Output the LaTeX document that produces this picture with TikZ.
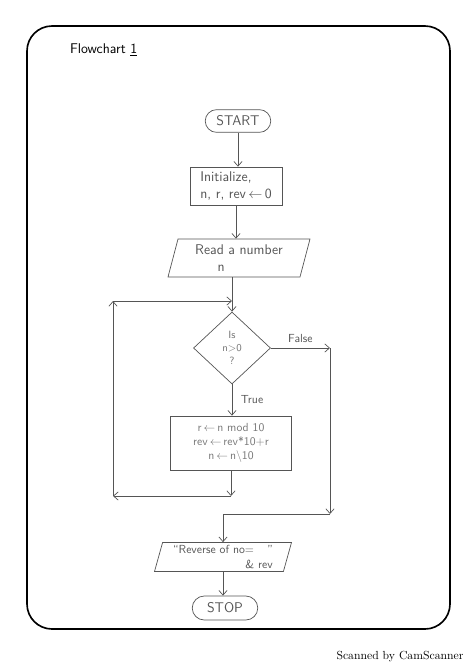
\documentclass[tikz,border=0pt]{standalone}
\usepackage{tikz}
\usetikzlibrary{positioning,calc,shapes.geometric,shapes.misc,arrows.meta}
\definecolor{Ink}{RGB}{85,85,85}
\definecolor{FadedInk}{RGB}{120,120,120}
\tikzstyle{every picture}+=[font=\sffamily]
\tikzset{%
  terminal/.style={%
    draw=Ink, semithick, shape=rounded rectangle, text=Ink,
    minimum width=2.2cm, minimum height=0.68cm, font=\sffamily\large
  },
  process/.style={%
    draw=Ink, semithick, shape=rectangle, text=FadedInk,
    align=left, inner sep=3pt
  },
  io/.style={%
    draw=Ink, semithick, shape=trapezium, trapezium stretches body,
    trapezium left angle=72, trapezium right angle=108, text=Ink,
    align=left, inner sep=2pt
  },
  decision/.style={%
    draw=Ink, semithick, shape=diamond, text=FadedInk,
    align=center, inner sep=0pt, font=\sffamily\small,
    minimum width=2.31cm, minimum height=2.16cm
  },
  arrow/.style={semithick, draw=Ink, ->, >={Straight Barb[length=4pt,width=7pt]}},
  plainline/.style={semithick, draw=Ink},
  branch/.style={text=Ink, font=\sffamily},
}

\begin{document}
\begin{tikzpicture}[x=0.03cm, y=-0.03cm]
    \useasboundingbox (0,0) rectangle (474,670);
    \draw[line width=1.4pt, rounded corners=0.75cm] (27,26) rectangle (450,629);
    \node[anchor=west, font=\sffamily\large] (TITLE) at (66,50) {Flowchart \underline{1}};

    \node (START)[terminal] at (238,121) {START};
    \node (INIT)[process, minimum width=2.76cm, minimum height=1.14cm, text=Ink,
        font=\sffamily\large, inner sep=2pt] at (236,186) {%
        Initialize,\\ n, r, rev$\,\leftarrow\,$0};
    \node (READ)[io, minimum width=4.26cm, minimum height=1.14cm, font=\sffamily\large] at (239,258) {%
        Read a number\\ \hspace*{1.6em}n};
    \node (CHECK)[decision] at (232,348) {Is\\ n$>$0\\ ?};
    \node (UPDATE)[process, minimum width=3.63cm, minimum height=1.62cm, align=center] at (231,443) {%
        r$\,\leftarrow\,$n mod 10\\ rev$\,\leftarrow\,$rev*10+r\\ n$\,\leftarrow\,$n$\backslash$10};
    \node (PRINT)[io, minimum width=4.11cm, minimum height=0.87cm,
        align=right, inner sep=1pt] at (223,557) {%
        ``Reverse of no= \hspace{0.8em}''\\ \& rev};
    \node (STOP)[terminal, minimum height=0.72cm] at (225,608) {STOP};

    \coordinate (MERGE) at (CHECK.north |- 0,301);
    \coordinate (LOOPR) at (UPDATE.south |- 0,496);
    \coordinate (LOOPL) at (113,496);
    \coordinate (LOOPT) at (113,301);
    \coordinate (FALSER) at (330,348);
    \coordinate (FALSEB) at (330,514);
    \coordinate (JOIN) at (PRINT.north |- 0,514);

    % main column
    \draw[arrow] (START.south) -- (START.south |- INIT.north);
    \draw[arrow] (INIT.south) -- (INIT.south |- READ.north);
    \draw[plainline] (MERGE |- READ.south) -- (MERGE);
    \draw[arrow] (MERGE) -- (CHECK.north);
    \draw[arrow] (CHECK.south) -- node[branch, right=4pt] {True} (CHECK.south |- UPDATE.north);
    \draw[arrow] (PRINT.south) -- (PRINT.south |- STOP.north);

    % loop back
    \draw[arrow] (UPDATE.south) -- (LOOPR);
    \draw[arrow] (LOOPR) -- (LOOPL);
    \draw[arrow] (LOOPL) -- (LOOPT);
    \draw[arrow] (LOOPT) -- (MERGE);

    % exit
    \draw[arrow] (CHECK.east) -- node[branch, above=1pt] {False} (FALSER);
    \draw[arrow] (FALSER) -- (FALSEB);
    \draw[arrow] (FALSEB) -- (JOIN) -- (PRINT.north);

    \node[font=\rmfamily] (SCAN) at (400,657) {Scanned by CamScanner};
\end{tikzpicture}
\end{document}
